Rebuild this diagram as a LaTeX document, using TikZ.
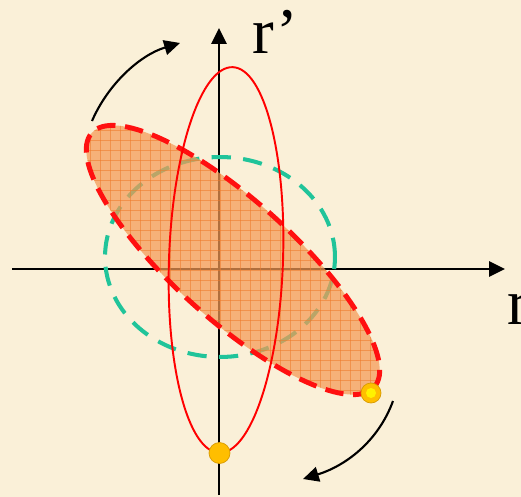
\documentclass[tikz,border=0pt]{standalone}
\usepackage{fontspec}
\setmainfont{Liberation Serif}
\usetikzlibrary{arrows.meta}
\definecolor{bg}{HTML}{FAF0D8}
\definecolor{fillorange}{HTML}{F59A55}
\definecolor{gridorange}{HTML}{EE7A2A}
\definecolor{dashred}{HTML}{FF1010}
\definecolor{teal}{HTML}{20C49A}
\definecolor{dotorange}{HTML}{FFBE00}
\definecolor{dotedge}{HTML}{D89A00}
\tikzset{
  axis/.style={line width=1.4pt, -{Triangle[length=9pt,width=8.5pt]}},
  turn/.style={line width=1.2pt, -{Triangle[length=9pt,width=8.5pt]}},
  tiltfill/.style={fill=fillorange, fill opacity=0.72},
  gridline/.style={draw=gridorange, line width=0.45pt, opacity=0.55},
  tiltedge/.style={draw=dashred, line width=2.8pt, dash pattern=on 10.5pt off 5.5pt},
  greenring/.style={draw=teal, line width=2.3pt, dash pattern=on 11pt off 7pt},
  thinring/.style={draw=red, line width=1.1pt},
  dot/.style={circle, fill=dotorange, draw=dotedge, line width=0.4pt, minimum size=0.4cm, inner sep=0pt},
  label/.style={font=\fontsize{37}{37}\selectfont, inner sep=0pt}
}
\begin{document}
\begin{tikzpicture}[x=0.02cm,y=-0.02cm]
\useasboundingbox[fill=bg] (0,0) rectangle (521,497);
% axes
\coordinate (xs) at (12,269);
\coordinate (xe) at (505,269);
\coordinate (ys) at (219,495);
\coordinate (ye) at (219,28);
\draw[axis] (xs) -- (xe);
\draw[axis] (ys) -- (ye);
% green dashed ring
\coordinate (G) at (220,257);
\draw[greenring] (G) ellipse [x radius=2.3cm, y radius=2.0cm];
% tilted filled ellipse
\coordinate (C) at (233,260);
\fill[tiltfill, rotate around={-42:(C)}] (C) ellipse [x radius=3.8cm, y radius=1.19cm];
\begin{scope}
  \clip[rotate around={-42:(C)}] (C) ellipse [x radius=3.8cm, y radius=1.19cm];
  \foreach \i in {80,90,...,390} \draw[gridline] (\i,110) -- (\i,410);
  \foreach \j in {110,120,...,410} \draw[gridline] (80,\j) -- (390,\j);
\end{scope}
\draw[tiltedge, rotate around={-42:(C)}] (C) ellipse [x radius=3.8cm, y radius=1.19cm];
% thin red ellipse
\coordinate (R) at (226,260);
\draw[thinring, rotate around={-2:(R)}] (R) ellipse [x radius=1.14cm, y radius=3.86cm];
% dots
\node[dot] (d1) at (371,393) {};
\fill[yellow] (d1) circle (0.1cm);
\node[dot, minimum size=0.42cm] (d2) at (219.5,453) {};
% curved arrows
\coordinate (a1s) at (92,121);
\coordinate (a1e) at (180,43);
\draw[turn] (a1s) .. controls (108,84) and (140,55) .. (a1e);
\coordinate (a2s) at (393,401);
\coordinate (a2e) at (303,479);
\draw[turn] (a2s) .. controls (378,442) and (345,466) .. (a2e);
% labels
\node[label, anchor=base west] (lr1) at (252,53) {r’};
\node[label, anchor=base west] (lr2) at (507,324) {r};
\end{tikzpicture}
\end{document}
